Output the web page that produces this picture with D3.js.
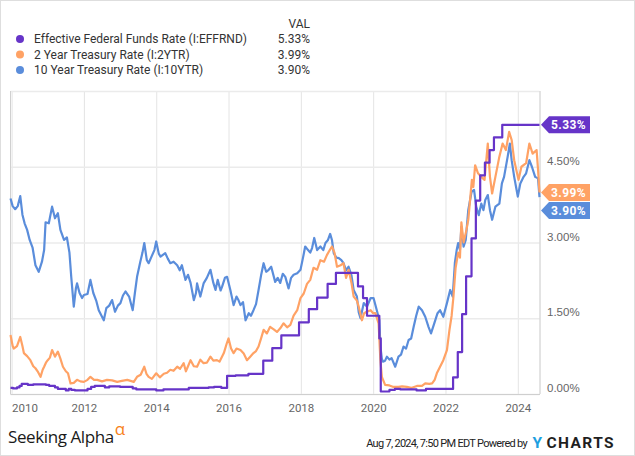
<!DOCTYPE html>
<html><head><meta charset="utf-8">
<script src="https://cdn.jsdelivr.net/npm/d3@7"></script>
<style>
html,body{margin:0;padding:0;background:#fff;}
svg{display:block;font-family:Roboto,"Noto Sans",sans-serif;}
</style></head><body>
<svg id="chart" width="635" height="456"></svg>
<script>
// ---- Data (decimal years, percent) ----
const seriesNames = ["Effective Federal Funds Rate (I:EFFRND)", "2 Year Treasury Rate (I:2YTR)", "10 Year Treasury Rate (I:10YTR)"];
const lastValues = [5.33, 3.99, 3.90];
const seriesColors = ["#6634c8", "#ffa265", "#5a8ddb"];
const xTicks = [2010, 2012, 2014, 2016, 2018, 2020, 2022, 2024];
const yTicks = [0, 1.5, 3, 4.5];
const yGrid = [0, 1.5, 3, 4.5, 6];

const effrYears = [2009.97,2010.04,2010.15,2010.22,2010.28,2010.45,2010.60,2010.95,2011.04,2011.20,2011.28,2011.50,2011.58,2011.65,2011.75,2012.10,2012.20,2012.30,2012.58,2012.70,2013.00,2013.35,2013.45,2014.00,2014.20,2014.90,2015.45,2015.60,2015.80,2015.96,2016.20,2016.55,2016.96,2017.21,2017.46,2017.95,2018.22,2018.45,2018.74,2018.97,2019.58,2019.72,2019.83,2020.17,2020.21,2020.45,2020.60,2020.75,2021.20,2021.46,2022.21,2022.34,2022.46,2022.57,2022.72,2022.84,2022.96,2023.09,2023.22,2023.34,2023.57,2024.60];
const effrValues = [0.12,0.11,0.13,0.16,0.20,0.18,0.19,0.18,0.16,0.13,0.10,0.07,0.10,0.08,0.07,0.10,0.14,0.16,0.13,0.15,0.14,0.11,0.09,0.07,0.09,0.12,0.13,0.14,0.12,0.36,0.37,0.40,0.66,0.91,1.16,1.42,1.68,1.91,2.18,2.40,2.13,1.90,1.55,1.10,0.05,0.08,0.10,0.09,0.07,0.10,0.33,0.83,1.58,2.33,3.08,3.83,4.33,4.58,4.83,5.08,5.33,5.33];

const twoYears = [2009.97,2010.03,2010.06,2010.15,2010.24,2010.30,2010.34,2010.43,2010.52,2010.60,2010.66,2010.72,2010.80,2010.86,2010.90,2010.95,2011.00,2011.06,2011.12,2011.20,2011.28,2011.35,2011.42,2011.50,2011.56,2011.63,2011.72,2011.81,2011.90,2012.00,2012.10,2012.18,2012.28,2012.37,2012.50,2012.64,2012.78,2012.92,2013.05,2013.20,2013.38,2013.47,2013.57,2013.67,2013.73,2013.79,2013.88,2014.00,2014.10,2014.21,2014.30,2014.39,2014.48,2014.58,2014.66,2014.76,2014.82,2014.88,2014.95,2015.04,2015.13,2015.22,2015.31,2015.40,2015.50,2015.58,2015.68,2015.75,2015.87,2015.95,2016.00,2016.07,2016.14,2016.22,2016.33,2016.42,2016.51,2016.60,2016.69,2016.76,2016.83,2016.90,2016.97,2017.06,2017.15,2017.25,2017.34,2017.43,2017.52,2017.62,2017.71,2017.80,2017.90,2017.99,2018.08,2018.17,2018.26,2018.35,2018.45,2018.54,2018.64,2018.72,2018.80,2018.86,2018.93,2019.00,2019.10,2019.18,2019.25,2019.32,2019.40,2019.46,2019.55,2019.60,2019.69,2019.75,2019.82,2019.93,2020.00,2020.06,2020.15,2020.20,2020.24,2020.33,2020.45,2020.56,2020.70,2020.80,2020.93,2021.05,2021.21,2021.35,2021.44,2021.55,2021.63,2021.70,2021.76,2021.85,2021.94,2022.04,2022.11,2022.17,2022.22,2022.28,2022.35,2022.40,2022.44,2022.50,2022.58,2022.63,2022.68,2022.73,2022.77,2022.82,2022.90,2022.99,2023.08,2023.17,2023.23,2023.29,2023.38,2023.49,2023.58,2023.67,2023.76,2023.83,2023.90,2024.02,2024.10,2024.23,2024.32,2024.41,2024.52,2024.56,2024.60];
const twoValues = [1.17,0.95,0.90,0.95,1.13,0.95,0.81,0.75,0.67,0.55,0.51,0.45,0.34,0.48,0.54,0.62,0.67,0.72,0.87,0.74,0.84,0.70,0.54,0.45,0.41,0.21,0.22,0.28,0.25,0.24,0.28,0.34,0.28,0.28,0.25,0.28,0.27,0.24,0.26,0.28,0.24,0.34,0.38,0.54,0.40,0.34,0.30,0.41,0.33,0.40,0.42,0.48,0.46,0.54,0.50,0.61,0.45,0.55,0.67,0.55,0.54,0.68,0.61,0.62,0.74,0.66,0.67,0.64,0.81,1.00,1.10,0.90,0.81,0.90,0.87,0.80,0.67,0.74,0.81,0.85,0.94,1.10,1.27,1.20,1.33,1.28,1.23,1.30,1.40,1.32,1.37,1.55,1.66,1.90,1.99,2.18,2.26,2.50,2.46,2.65,2.62,2.75,2.85,2.92,2.80,2.52,2.55,2.59,2.30,2.46,2.20,1.93,1.85,1.73,1.46,1.60,1.63,1.66,1.60,1.60,1.40,0.67,0.34,0.18,0.17,0.14,0.14,0.15,0.14,0.12,0.16,0.16,0.21,0.20,0.21,0.28,0.41,0.54,0.67,0.87,1.27,1.55,1.93,2.50,2.80,2.70,3.40,3.00,3.25,3.45,3.84,4.24,4.10,4.53,4.37,4.30,4.24,4.96,4.30,3.97,4.30,4.70,4.96,4.83,5.19,5.03,4.63,4.24,4.50,4.57,4.96,4.76,4.83,4.44,3.99];

const tenYears = [2009.97,2010.03,2010.10,2010.17,2010.24,2010.30,2010.36,2010.43,2010.50,2010.58,2010.66,2010.75,2010.84,2010.90,2010.94,2011.03,2011.12,2011.20,2011.28,2011.35,2011.45,2011.53,2011.60,2011.65,2011.72,2011.78,2011.81,2011.88,2011.95,2012.00,2012.10,2012.18,2012.26,2012.34,2012.41,2012.55,2012.62,2012.70,2012.78,2012.86,2012.94,2013.01,2013.08,2013.15,2013.25,2013.35,2013.41,2013.47,2013.56,2013.62,2013.67,2013.74,2013.79,2013.87,2013.95,2014.00,2014.07,2014.12,2014.25,2014.32,2014.39,2014.48,2014.58,2014.65,2014.71,2014.81,2014.88,2014.95,2015.04,2015.10,2015.13,2015.22,2015.31,2015.40,2015.50,2015.58,2015.64,2015.70,2015.78,2015.82,2015.90,2015.96,2016.05,2016.14,2016.22,2016.28,2016.33,2016.40,2016.47,2016.56,2016.62,2016.69,2016.76,2016.83,2016.90,2016.97,2017.04,2017.11,2017.18,2017.29,2017.36,2017.43,2017.50,2017.57,2017.66,2017.73,2017.80,2017.90,2017.99,2018.06,2018.12,2018.20,2018.26,2018.31,2018.37,2018.45,2018.54,2018.62,2018.68,2018.75,2018.81,2018.86,2018.91,2018.98,2019.05,2019.12,2019.18,2019.25,2019.32,2019.40,2019.46,2019.55,2019.60,2019.65,2019.74,2019.83,2019.93,2020.01,2020.10,2020.17,2020.20,2020.24,2020.27,2020.33,2020.38,2020.45,2020.51,2020.61,2020.70,2020.77,2020.84,2020.91,2020.98,2021.05,2021.12,2021.19,2021.26,2021.35,2021.44,2021.53,2021.60,2021.69,2021.78,2021.85,2021.94,2022.04,2022.13,2022.20,2022.26,2022.31,2022.35,2022.40,2022.44,2022.50,2022.56,2022.63,2022.72,2022.79,2022.85,2022.92,2022.99,2023.05,2023.10,2023.17,2023.23,2023.29,2023.38,2023.49,2023.56,2023.62,2023.72,2023.78,2023.83,2023.90,2024.00,2024.07,2024.16,2024.23,2024.32,2024.39,2024.48,2024.56,2024.60];
const tenValues = [3.87,3.72,3.66,3.72,3.92,3.55,3.38,3.25,3.05,2.90,2.55,2.42,2.62,2.85,3.40,3.38,3.71,3.48,3.58,3.25,3.05,3.10,2.80,2.32,1.73,2.10,2.19,2.00,1.90,1.96,1.98,2.26,2.00,1.85,1.66,1.46,1.70,1.75,1.86,1.63,1.75,1.80,1.95,2.03,1.93,1.66,2.00,2.32,2.62,2.80,2.99,2.65,2.59,2.72,2.85,3.02,2.78,2.72,2.79,2.68,2.59,2.62,2.55,2.45,2.55,2.26,2.36,2.20,1.86,2.00,2.19,1.93,2.19,2.30,2.46,2.20,2.06,2.26,2.05,2.12,2.30,2.32,2.06,1.76,1.93,1.85,1.76,1.82,1.46,1.60,1.55,1.66,1.78,2.06,2.35,2.59,2.42,2.46,2.52,2.22,2.30,2.20,2.38,2.32,2.09,2.30,2.36,2.39,2.46,2.70,2.92,2.85,2.80,2.89,3.09,2.85,2.92,2.85,2.99,3.05,3.17,3.05,2.79,2.70,2.69,2.65,2.59,2.45,2.52,2.35,2.06,1.93,1.62,1.50,1.80,1.73,1.90,1.90,1.66,1.46,0.94,0.70,0.64,0.66,0.74,0.68,0.71,0.54,0.74,0.78,0.94,0.90,1.07,1.10,1.33,1.55,1.73,1.66,1.53,1.33,1.20,1.40,1.60,1.66,1.53,1.80,2.06,1.93,2.60,2.85,2.99,2.85,3.31,2.92,3.05,3.64,4.00,4.04,3.71,3.54,3.77,3.64,3.84,3.94,3.64,3.45,3.71,3.77,4.17,4.30,4.70,4.96,4.63,4.30,3.91,4.17,4.30,4.37,4.63,4.50,4.30,4.27,3.90];

// ---- Chart ----
const svg = d3.select("#chart");
svg.append("rect").attr("x",0.5).attr("y",0.5).attr("width",634).attr("height",455)
  .attr("fill","#fff").attr("stroke","#dedede");

const x = d3.scaleLinear().domain([2009.97, 2024.60]).range([10.5, 539.5]);
const y = d3.scaleLinear().domain([0, 6]).range([394, 91]);
const plotW = 529, plotH = 303;

// vertical grid
svg.append("g").attr("transform","translate(0,91)")
  .call(d3.axisBottom(x).tickValues(xTicks).tickSize(plotH).tickFormat(""))
  .call(g=>g.select(".domain").remove())
  .call(g=>g.selectAll("line").attr("stroke","#e4e4e4").attr("stroke-width",1));
// horizontal grid
svg.append("g").attr("transform","translate(10.5,0)")
  .call(d3.axisRight(y).tickValues(yGrid).tickSize(plotW).tickFormat(""))
  .call(g=>g.select(".domain").remove())
  .call(g=>g.selectAll("line").attr("stroke","#ebebeb").attr("stroke-width",1.5));
// frame
svg.append("line").attr("x1",10.5).attr("x2",10.5).attr("y1",91).attr("y2",394).attr("stroke","#d0d0d0");
svg.append("line").attr("x1",540).attr("x2",540).attr("y1",91).attr("y2",394).attr("stroke","#c8c8c8");
svg.append("line").attr("x1",10.5).attr("x2",540).attr("y1",394.5).attr("y2",394.5).attr("stroke","#cfcfcf");

// x axis labels
const xAxis = svg.append("g").attr("transform","translate(0,394)")
  .call(d3.axisBottom(x).tickValues(xTicks).tickSize(0).tickPadding(10).tickFormat(d3.format("d")));
xAxis.select(".domain").remove();
xAxis.selectAll("text").attr("fill","#666").style("font-size","11.5px").style("font-family","Roboto");
xAxis.selectAll(".tick").filter(d=>d===2010).select("text").attr("text-anchor","start").attr("x",x(2009.97)-x(2010)+1);

// y axis labels
const yAxis = svg.append("g").attr("transform","translate(540,0)")
  .call(d3.axisRight(y).tickValues(yTicks).tickSize(0).tickPadding(7).tickFormat(d=>d.toFixed(2)+"%"));
yAxis.select(".domain").remove();
yAxis.selectAll("text").attr("fill","#666").style("font-size","11.5px").attr("dy","-0.2em");

// series
const mk = (xs, vs) => xs.map((t,i)=>[t, vs[i]]);
const data = [mk(effrYears, effrValues), mk(twoYears, twoValues), mk(tenYears, tenValues)];
const lineSmooth = d3.line().x(d=>x(d[0])).y(d=>y(d[1]));
const lineStep = d3.line().x(d=>x(d[0])).y(d=>y(d[1])).curve(d3.curveStepAfter);
const plot = svg.append("g");
[2,1,0].forEach(i=>{
  plot.append("path").datum(data[i]).attr("fill","none")
    .attr("stroke",seriesColors[i]).attr("stroke-width",2.2).attr("stroke-linejoin","round")
    .attr("d", i===0 ? lineStep : lineSmooth);
});

// right value tags
let tagY = lastValues.map(v=>y(v));
const order = d3.range(3).sort((a,b)=>tagY[a]-tagY[b]);
for (let k=1;k<order.length;k++){
  const a=order[k-1], b=order[k];
  if (tagY[b]-tagY[a] < 18) tagY[b] = tagY[a]+18;
}
const tags = svg.append("g");
lastValues.forEach((v,i)=>{
  const cy = tagY[i];
  tags.append("path")
    .attr("d",`M541,${cy} L549,${cy-8.5} L590,${cy-8.5} L590,${cy+8.5} L549,${cy+8.5} Z`)
    .attr("fill",seriesColors[i]);
  tags.append("text").attr("x",551).attr("y",cy).attr("dy","0.36em")
    .attr("fill","#fff").style("font-size","12px").style("font-weight","bold").style("letter-spacing","0.4px")
    .text(v.toFixed(2)+"%");
});

// legend
const legend = svg.append("g");
legend.append("text").attr("x",310).attr("y",24).attr("dy","0.35em").attr("text-anchor","end")
  .attr("fill","#333").style("font-size","12px").text("VAL");
const rowY = [39, 54.5, 70];
seriesNames.forEach((n,i)=>{
  legend.append("circle").attr("cx",20).attr("cy",rowY[i]).attr("r",4).attr("fill",seriesColors[i]);
  legend.append("text").attr("x",34).attr("y",rowY[i]).attr("dy","0.35em").attr("fill","#333")
    .style("font-size","12px").text(n);
  legend.append("text").attr("x",310).attr("y",rowY[i]).attr("dy","0.35em").attr("text-anchor","end")
    .attr("fill","#333").style("font-size","12px").text(lastValues[i].toFixed(2)+"%");
});

// footer
const sa = svg.append("text").attr("x",8).attr("y",443).attr("fill","#1a1a1a")
  .style("font-family","'Open Sans',Lato,sans-serif").style("font-size","17px").style("letter-spacing","-0.4px");
sa.append("tspan").text("Seeking Alpha");
sa.append("tspan").attr("dx",1).attr("dy",-8).attr("fill","#f7821b").style("font-size","17px").text("α");

svg.append("text").attr("x",527).attr("y",446.5).attr("text-anchor","end").attr("fill","#222")
  .style("font-size","11px").style("letter-spacing","-0.7px")
  .text("Aug 7, 2024, 7:50 PM EDT Powered by");
svg.append("text").attr("x",532.5).attr("y",447.5).style("font-size","15.5px").style("font-weight","bold")
  .attr("fill","#1d9fe0").text("Y");
svg.append("text").attr("x",546.5).attr("y",447.5).style("font-size","15.5px").style("font-weight","bold")
  .attr("fill","#1f1f1f").style("letter-spacing","1.4px").text("CHARTS");
</script>
</body></html>
